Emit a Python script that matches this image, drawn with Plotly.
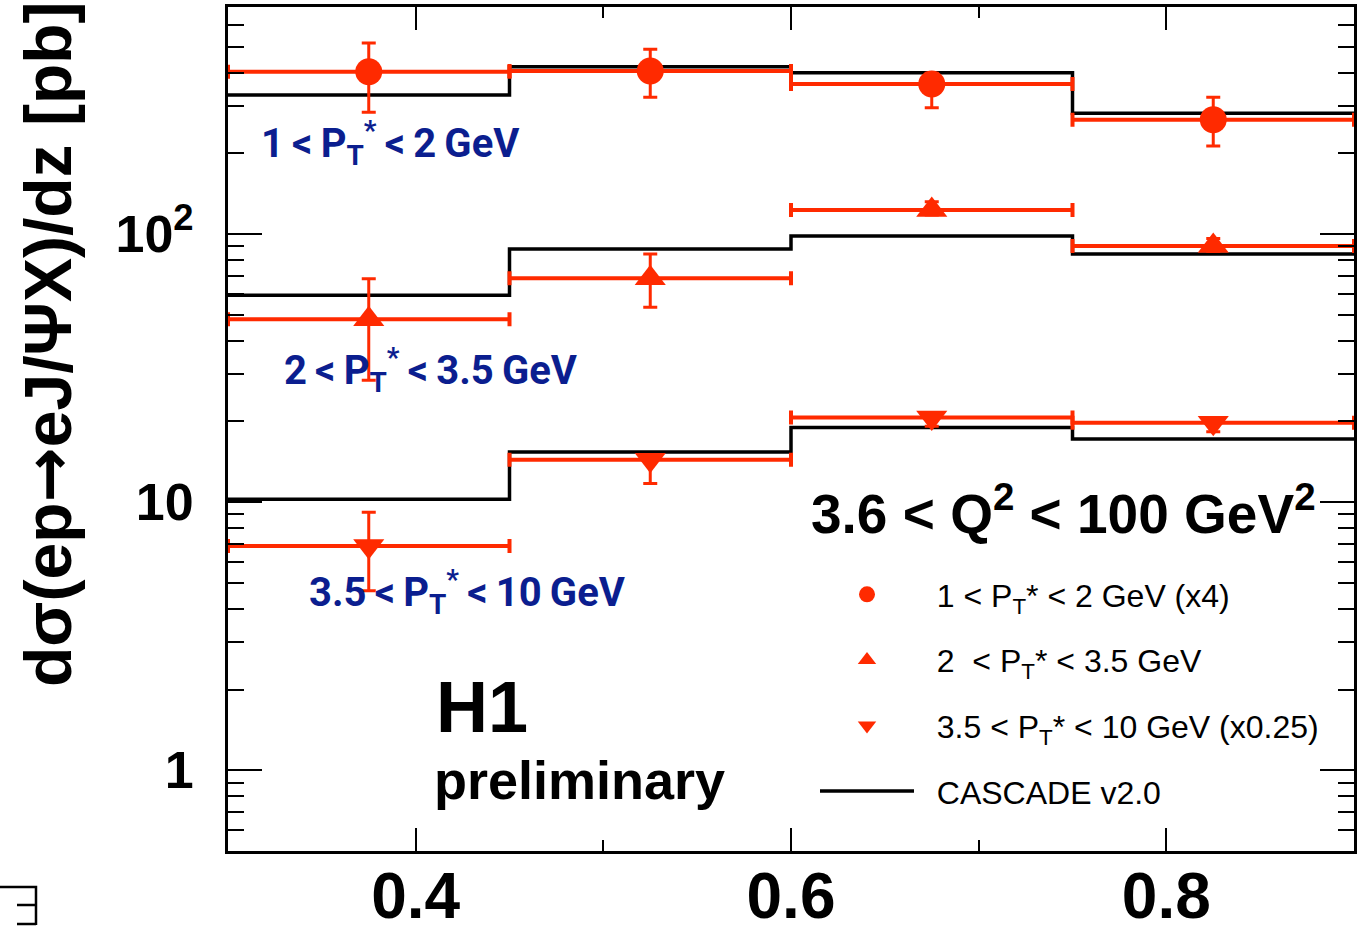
import numpy as np
import plotly.graph_objects as go

# ---------------- data ----------------
z_edges = [0.3, 0.45, 0.6, 0.75, 0.9]
z_centres = [0.375, 0.525, 0.675, 0.825]
z_halfwidth = [0.075, 0.075, 0.075, 0.075]

# 1 < PT* < 2 GeV (x4)
pt1_vals = [403, 406, 363, 267]
pt1_err_up = [113, 83, 35, 57]
pt1_err_dn = [118, 82, 67, 54]
# 2 < PT* < 3.5 GeV
pt2_vals = [48.1, 68.4, 122.9, 90.2]
pt2_err_up = [20.0, 15.8, 9.0, 6.0]
pt2_err_dn = [19.6, 15.1, 5.0, 4.0]
# 3.5 < PT* < 10 GeV (x0.25)
pt3_vals = [6.87, 14.4, 20.7, 19.8]
pt3_err_up = [2.3, 0.6, 0.9, 0.9]
pt3_err_dn = [2.2, 2.65, 1.5, 1.5]

# CASCADE v2.0 predictions (per bin)
cascade1 = [330, 421, 400, 282]
cascade2 = [59.2, 87.9, 98.3, 84.2]
cascade3 = [10.25, 15.4, 19.0, 17.2]

NB = "\u00a0"
TS = "\u2009"
legend_names = [
    NB * 2 + "1 < P<sub>T</sub>* < 2 GeV (x4)",
    NB * 2 + "2  < P<sub>T</sub>* < 3.5 GeV",
    NB * 2 + "3.5 < P<sub>T</sub>* < 10 GeV (x0.25)",
    NB * 2 + "CASCADE v2.0",
]
band_labels = [
    "1" + TS + "<" + TS + "P<sub>T</sub><sup>*</sup>" + TS + "<" + TS + "2" + TS + "GeV",
    "2" + TS + "<" + TS + "P<sub>T</sub><sup>*</sup>" + TS + "<" + TS + "3.5" + TS + "GeV",
    "3.5" + TS + "<" + TS + "P<sub>T</sub><sup>*</sup>" + TS + "<" + TS + "10" + TS + "GeV",
]
y_tickvals = [1, 10, 100]
y_ticktext = ["1", "10", "10<sup>2</sup>"]
x_tickvals = [0.4, 0.6, 0.8]
x_ticktext = ["0.4", "0.6", "0.8"]

# ---------------- styling ----------------
RED = "#ff2a00"
BLUE = "#0b1e8f"
SANS = "Liberation Sans, Arial, sans-serif"
W, H = 1372, 927
ML, MR, MT, MB = 228, 18, 7, 76
PW, PH = W - ML - MR, H - MT - MB


def px(xp):
    return (xp - ML) / PW


def py(yp):
    return (H - MB - yp) / PH


fig = go.Figure()

# CASCADE histograms (step lines)
for i, c in enumerate([cascade1, cascade2, cascade3]):
    fig.add_trace(go.Scatter(
        x=z_edges, y=list(c) + [c[-1]], mode="lines",
        line=dict(shape="hv", color="black", width=3.5),
        name=legend_names[3], showlegend=(i == 0), legendrank=4,
        legendgroup="g4", hoverinfo="skip"))

series = [
    (pt1_vals, pt1_err_up, pt1_err_dn, "circle", 27),
    (pt2_vals, pt2_err_up, pt2_err_dn, "triangle-up", 27),
    (pt3_vals, pt3_err_up, pt3_err_dn, "triangle-down", 27),
]
for i, (v, eu, ed, sym, sz) in enumerate(series):
    fig.add_trace(go.Scatter(
        x=z_centres, y=v, mode="markers",
        marker=dict(symbol=sym, size=sz, color=RED, line=dict(width=0)),
        error_x=dict(type="data", array=z_halfwidth, color=RED, thickness=4, width=7),
        error_y=dict(type="data", symmetric=False, array=eu, arrayminus=ed,
                     color=RED, thickness=3, width=7),
        name=legend_names[i], legendrank=i + 1, legendgroup="g%d" % (i + 1)))

minor_y = [0.5, 0.6, 0.7, 0.8, 0.9] + [m * 10 ** d for d in range(0, 3) for m in range(2, 10)]
minor_y = [m for m in minor_y if m <= 700]

fig.update_xaxes(
    range=[0.3, 0.9], showline=True, linewidth=3, linecolor="black", mirror="allticks",
    ticks="inside", ticklen=23, tickwidth=2, tickcolor="black",
    tickvals=x_tickvals, ticktext=x_ticktext, automargin=False,
    tickfont=dict(family=SANS, size=64, color="black", weight="bold"),
    ticklabelstandoff=-13,
    minor=dict(tickvals=[0.5, 0.7], ticks="inside", ticklen=11, tickwidth=2, tickcolor="black"),
    showgrid=False, zeroline=False)

fig.update_yaxes(
    type="log", range=[np.log10(0.5), 2.847], showline=True, linewidth=3, linecolor="black",
    mirror="allticks", ticks="inside", ticklen=34, tickwidth=2, tickcolor="black",
    tickvals=y_tickvals, ticktext=y_ticktext, automargin=False,
    tickfont=dict(family=SANS, size=52, color="black", weight="bold"),
    ticklabelstandoff=21,
    minor=dict(tickvals=minor_y, ticks="inside", ticklen=16, tickwidth=2, tickcolor="black"),
    showgrid=False, zeroline=False)

annotations = []
# y-axis title
annotations.append(dict(
    text="dσ(ep<span style='font-family:DejaVu Sans'>→</span>eJ/ΨX)/dz [pb]",
    textangle=-90, xref="paper", yref="paper",
    x=px(48), y=py(344), xanchor="center", yanchor="middle", showarrow=False,
    font=dict(family=SANS, size=66, color="black", weight="bold")))

# band labels
label_pos = [(390, 143), (431, 370), (467, 592)]
for t, (xx, yy) in zip(band_labels, label_pos):
    annotations.append(dict(
        text=t, xref="paper", yref="paper", x=px(xx), y=py(yy), xanchor="center", yanchor="middle",
        showarrow=False,
        font=dict(family="Roboto, Liberation Sans, sans-serif", size=40, color=BLUE, weight="bold")))

annotations.append(dict(
    text="3.6 < Q<sup>2</sup> < 100 GeV<sup>2</sup>", xref="paper", yref="paper",
    x=px(809), y=py(510), xanchor="left", yanchor="middle", showarrow=False,
    font=dict(family=SANS, size=55, color="black", weight="bold")))
annotations.append(dict(
    text="H1", xref="paper", yref="paper", x=px(434), y=py(707), xanchor="left", yanchor="middle",
    showarrow=False,
    font=dict(family=SANS, size=72, color="black", weight="bold")))
annotations.append(dict(
    text="preliminary", xref="paper", yref="paper", x=px(432), y=py(780), xanchor="left",
    yanchor="middle", showarrow=False,
    font=dict(family=SANS, size=54, color="black", weight="bold")))


# small cut-off glyph at bottom-left corner of the original canvas
def P(xp, yp):
    return "%.5f,%.5f" % (px(xp), py(yp))


shapes = [dict(type="path", xref="paper", yref="paper",
               path="M%s L%s L%s M%s L%s M%s L%s" % (P(0, 887), P(36, 887), P(36, 925),
                                                    P(17, 905), P(36, 905), P(17, 924), P(36, 924)),
               line=dict(color="black", width=2.5))]

fig.update_layout(
    width=W, height=H, margin=dict(l=ML, r=MR, t=MT, b=MB),
    paper_bgcolor="white", plot_bgcolor="white",
    annotations=annotations, shapes=shapes,
    showlegend=True,
    legend=dict(x=px(815), y=py(567), xanchor="left", yanchor="top",
                bgcolor="rgba(0,0,0,0)", traceorder="grouped", tracegroupgap=21,
                itemwidth=94,
                font=dict(family=SANS, size=32, color="black")),
)

fig.write_html("out.html")
